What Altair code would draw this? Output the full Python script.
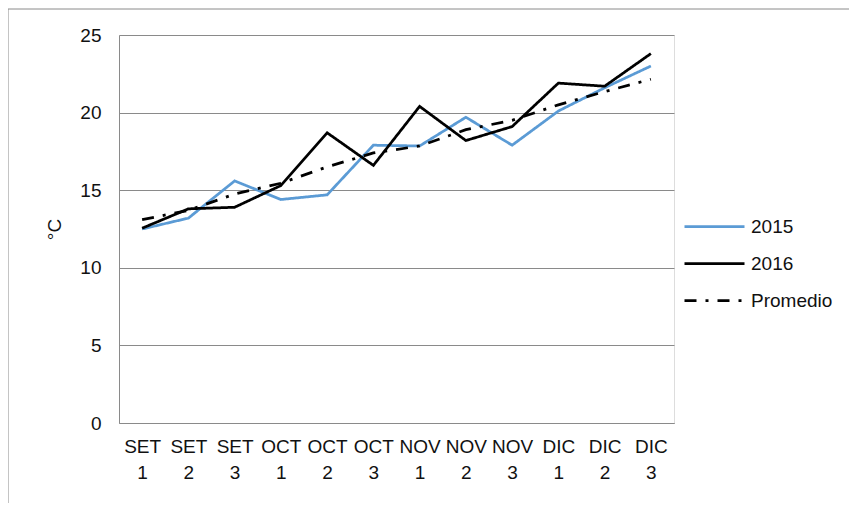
import altair as alt
import pandas as pd

categories = ["SET 1", "SET 2", "SET 3", "OCT 1", "OCT 2", "OCT 3",
              "NOV 1", "NOV 2", "NOV 3", "DIC 1", "DIC 2", "DIC 3"]
v2015 = [12.5, 13.2, 15.6, 14.4, 14.7, 17.9, 17.85, 19.7, 17.9, 20.1, 21.6, 23.0]
v2016 = [12.55, 13.8, 13.9, 15.3, 18.7, 16.6, 20.4, 18.2, 19.1, 21.9, 21.7, 23.8]
vprom = [13.1, 13.7, 14.75, 15.45, 16.5, 17.4, 17.85, 18.9, 19.5, 20.5, 21.35, 22.15]
series = ["2015", "2016", "Promedio"]

rows = []
for s, vals in zip(series, [v2015, v2016, vprom]):
    for c, v in zip(categories, vals):
        rows.append({"cat": c, "serie": s, "val": v})
df = pd.DataFrame(rows)

FONT = "Liberation Sans"
GRAY = "#8a8a8a"
FS = 19

lines = alt.Chart(df).mark_line(strokeWidth=2.75).encode(
    x=alt.X("cat:N", sort=categories, title=None,
            axis=alt.Axis(labelExpr="split(datum.label, ' ')", labelAngle=0,
                          labelFontSize=FS, labelLineHeight=26, labelPadding=14,
                          ticks=False, domainColor=GRAY, grid=False,
                          labelColor="#111", labelFont=FONT)),
    y=alt.Y("val:Q", scale=alt.Scale(domain=[0, 25], nice=False),
            title="°C",
            axis=alt.Axis(values=[0, 5, 10, 15, 20, 25], ticks=False,
                          labelFontSize=FS, labelPadding=18, labelColor="#111",
                          labelFont=FONT, domainColor=GRAY, gridColor=GRAY,
                          titleFontSize=FS, titleFontWeight="normal", titleFont=FONT,
                          titleColor="#111", titleX=-65, titleY=194,
                          titleAlign="center", titleBaseline="middle", titleAngle=-90)),
    color=alt.Color("serie:N", sort=series,
                    scale=alt.Scale(domain=series, range=["#5B9BD5", "#000000", "#000000"]),
                    legend=alt.Legend(title=None, orient="none", legendX=579, legendY=175,
                                      symbolType="M-2,0H2", symbolSize=900,
                                      symbolStrokeWidth=2.75, labelFontSize=FS,
                                      labelFont=FONT, labelColor="#111", labelOffset=20,
                                      rowPadding=10)),
    strokeDash=alt.StrokeDash("serie:N", sort=series,
                              scale=alt.Scale(domain=series,
                                              range=[[1, 0], [1, 0], [12, 9, 3, 9]]),
                              legend=alt.Legend(title=None)),
)

border_df = pd.DataFrame({"a": [0]})
top_border = alt.Chart(border_df).mark_rule(color=GRAY, strokeWidth=1, clip=False).encode(
    x=alt.value(-111), x2=alt.value(760), y=alt.value(-26))
left_border = alt.Chart(border_df).mark_rule(color=GRAY, strokeWidth=1, clip=False).encode(
    x=alt.value(-111), y=alt.value(-26), y2=alt.value(480))

chart = alt.layer(top_border, left_border, lines).properties(
    width=555, height=388,
    autosize=alt.AutoSizeParams(type="none"),
    padding={"left": 111, "top": 27, "right": 175, "bottom": 80},
).configure_view(stroke=None).configure(background="white")

chart.save("out.html", embed_options={"renderer": "svg", "actions": False})
